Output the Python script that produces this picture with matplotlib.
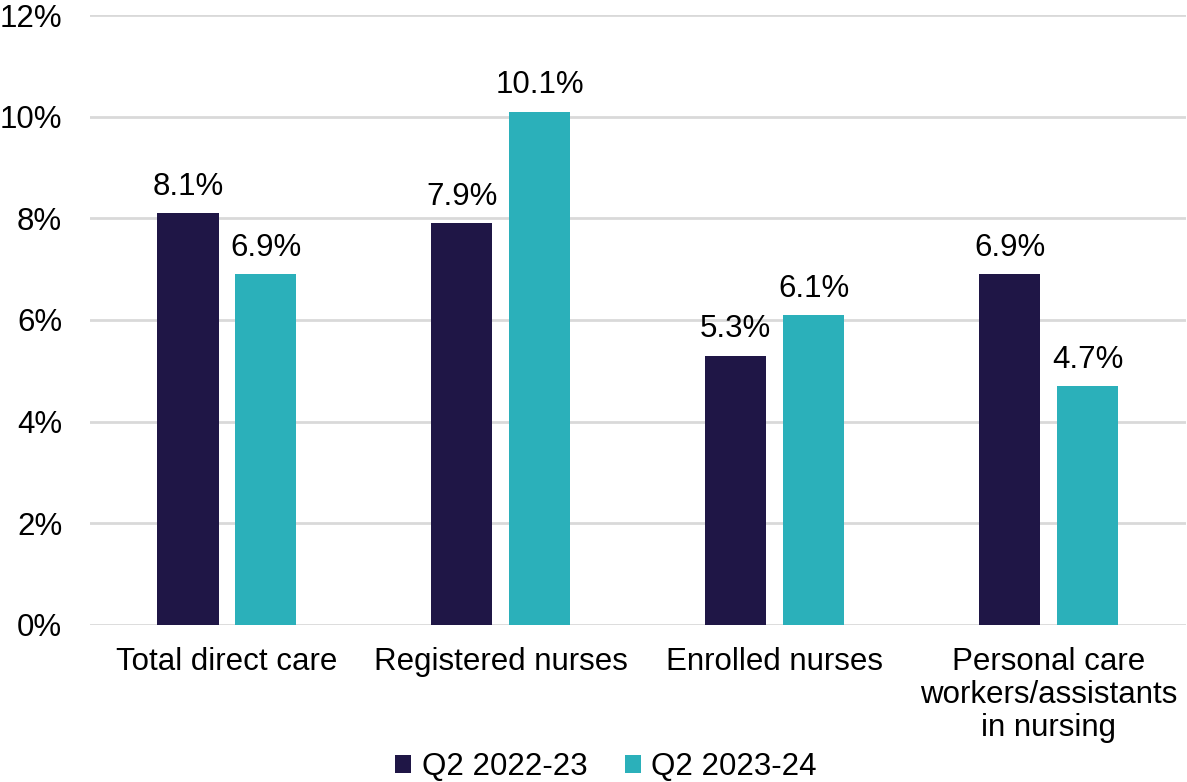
import numpy as np
import matplotlib.pyplot as plt

plt.rcParams['font.family'] = ['Liberation Sans', 'DejaVu Sans']

categories = ['Total direct care', 'Registered nurses', 'Enrolled nurses',
              'Personal care\nworkers/assistants\nin nursing']
series_names = ['Q2 2022-23', 'Q2 2023-24']
q2_2022 = [8.1, 7.9, 5.3, 6.9]
q2_2023 = [6.9, 10.1, 6.1, 4.7]
colors = ['#1F1646', '#2BB0BA']

fs = 22.5

fig = plt.figure(figsize=(11.87, 7.82), dpi=100)
ax = fig.add_axes([0.0758, 0.2008, 0.923, 0.78])

x = np.arange(len(categories))
w = 0.223
off = 0.142
for vals, dx, c, name in zip([q2_2022, q2_2023], [-off, off], colors, series_names):
    bars = ax.bar(x + dx, vals, width=w, color=c, label=name, zorder=3)
    for b, v in zip(bars, vals):
        ax.annotate(f'{v:.1f}%', (b.get_x() + b.get_width() / 2, v),
                    xytext=(0, 8), textcoords='offset points',
                    ha='center', va='bottom', fontsize=fs, color='#000000')

ax.set_xlim(-0.5, 3.5)
ax.set_ylim(0, 12)
ax.set_yticks(range(0, 13, 2))
ax.set_yticklabels([f'{t}%' for t in range(0, 13, 2)])
ax.set_xticks(x)
ax.set_xticklabels(categories, linespacing=1.12)
ax.tick_params(axis='both', length=0, labelsize=fs, colors='#000000')
ax.tick_params(axis='x', pad=16)
ax.tick_params(axis='y', pad=20)
ax.grid(axis='y', color='#D9D9D9', linewidth=2, zorder=0)
for s in ax.spines.values():
    s.set_visible(False)

fig.legend(*ax.get_legend_handles_labels(), loc='center',
           bbox_to_anchor=(0.5105, 0.0190), ncol=2, frameon=False,
           fontsize=fs, handlelength=0.52, handleheight=0.52,
           handletextpad=0.33, columnspacing=1.2, borderpad=0)

fig.savefig('out.png', dpi=100)
